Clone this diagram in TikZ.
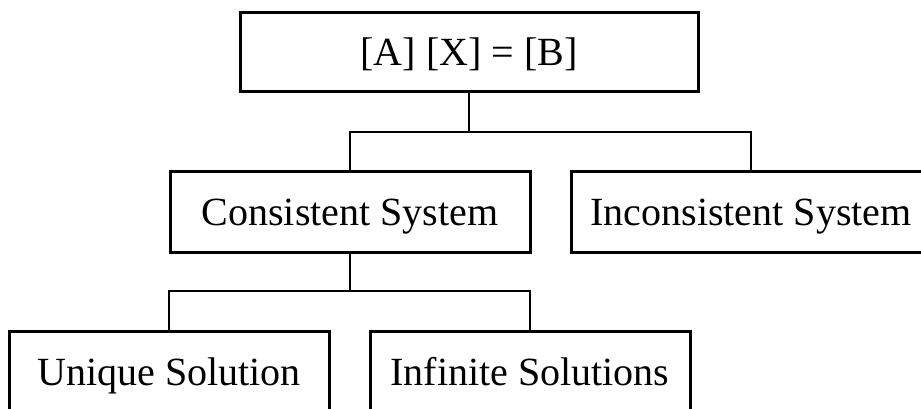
\documentclass[tikz,border=0pt]{standalone}
\usepackage{fontspec}
\setmainfont{Liberation Serif}
\begin{document}
\begin{tikzpicture}[x=1pt,y=1pt,
  box/.style={draw=black, line width=3pt, fill=white, inner sep=0pt,
    text height=27pt, text depth=0pt, align=center,
    font=\fontsize{40}{48}\selectfont},
  link/.style={draw=black, line width=2.6pt}]
\useasboundingbox (0,0) rectangle (921,-408);
\clip (0,0) rectangle (921,-408);
\fill[white] (0,0) rectangle (921,-408);
\node[box, minimum width=458pt, minimum height=79pt] (top) at (469,-51.5) {[A] [X] = [B]};
\node[box, minimum width=360pt, minimum height=81pt] (cons) at (350,-211.5) {Consistent System};
\node[box, minimum width=360pt, minimum height=81pt] (incons) at (751,-211.5) {Inconsistent System};
\node[box, minimum width=320pt, minimum height=81pt] (uniq) at (169,-371.5) {Unique Solution};
\node[box, minimum width=320pt, minimum height=81pt] (inf) at (530,-371.5) {Infinite Solutions};
\coordinate (j1) at (469,-132);
\coordinate (j2) at (350,-291);
\draw[link] (top.south) -- (j1);
\draw[link] (cons.north) |- (j1) -| (incons.north);
\draw[link] (cons.south) -- (j2);
\draw[link] (uniq.north) |- (j2) -| (inf.north);
\end{tikzpicture}
\end{document}
